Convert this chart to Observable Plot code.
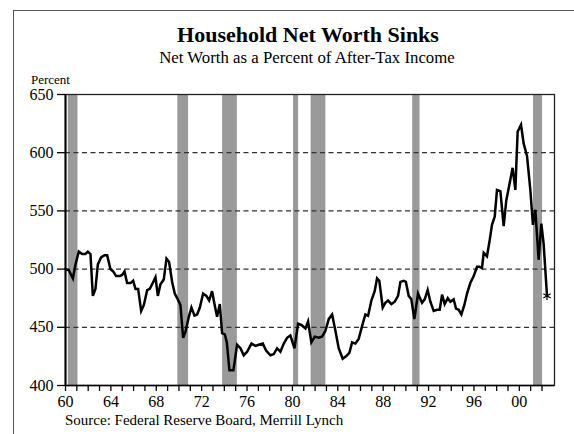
<!DOCTYPE html>
<html><head><meta charset="utf-8">
<script src="https://cdn.jsdelivr.net/npm/d3@7"></script>
<script src="https://cdn.jsdelivr.net/npm/@observablehq/plot@0.6"></script>
<style>
html,body{margin:0;padding:0;background:#fff;width:574px;height:434px;overflow:hidden;font-family:"Liberation Serif","Times New Roman",serif;}
#frame{position:absolute;left:13px;top:10px;width:640px;height:520px;border-left:1px solid #555;border-top:1px solid #555;}
.t{position:absolute;white-space:nowrap;color:#000;}
#title{left:0;width:616px;text-align:center;font-weight:bold;font-size:22px;line-height:22px;top:23.6px;}
#subtitle{left:0;width:614px;text-align:center;font-size:16.8px;line-height:16.8px;top:50px;}
#unit{left:31px;font-size:13px;line-height:13px;top:73.1px;}
#source{left:65px;font-size:15px;line-height:15px;top:413.4px;}
#chart{position:absolute;left:0;top:84px;}
#chart svg text{font-size:16px;}
</style>
</head><body>
<div id="frame"></div>
<div class="t" id="title">Household Net Worth Sinks</div>
<div class="t" id="subtitle">Net Worth as a Percent of After-Tax Income</div>
<div class="t" id="unit">Percent</div>
<div id="chart"></div>
<div class="t" id="source">Source: Federal Reserve Board, Merrill Lynch</div>
<script>
// Net worth as % of after-tax income
const dates = [
1960.00,1960.29,1960.65,1960.88,1961.17,1961.47,1961.76,1961.97,1962.20,1962.41,
1962.64,1962.85,1963.14,1963.44,1963.67,1963.96,1964.20,1964.46,1964.79,1964.99,
1965.20,1965.43,1965.73,1965.96,1966.17,1966.40,1966.67,1966.90,1967.20,1967.43,
1967.69,1967.93,1968.14,1968.37,1968.66,1968.90,1969.13,1969.40,1969.63,1969.90,
1970.13,1970.37,1970.57,1970.87,1971.10,1971.37,1971.60,1971.84,1972.13,1972.42,
1972.66,1972.92,1973.13,1973.36,1973.60,1973.80,1974.04,1974.22,1974.45,1974.80,
1975.12,1975.42,1975.71,1976.01,1976.39,1976.74,1977.03,1977.39,1977.68,1978.06,
1978.36,1978.65,1978.94,1979.24,1979.53,1979.82,1980.18,1980.50,1980.79,1981.15,
1981.38,1981.67,1981.97,1982.32,1982.61,1982.91,1983.20,1983.50,1983.79,1984.08,
1984.43,1984.73,1985.02,1985.26,1985.55,1985.84,1986.14,1986.43,1986.67,1986.96,
1987.25,1987.46,1987.66,1987.96,1988.19,1988.43,1988.72,1989.02,1989.31,1989.52,
1989.81,1990.00,1990.25,1990.48,1990.75,1991.07,1991.42,1991.66,1991.92,1992.16,
1992.45,1992.75,1992.98,1993.19,1993.42,1993.69,1993.92,1994.21,1994.42,1994.66,
1994.89,1995.15,1995.39,1995.68,1995.98,1996.27,1996.48,1996.71,1996.86,1997.15,
1997.39,1997.59,1997.83,1998.03,1998.33,1998.62,1998.85,1999.21,1999.41,1999.65,
1999.85,2000.15,2000.38,2000.68,2000.97,2001.20,2001.41,2001.70,2001.94,2002.14,
2002.44];
const netWorth = [
500,499,492,504,515,513,513,515,513,477,
483,504,510,512,512,500,498,494,494,495,
498,488,488,490,483,483,464,469,482,483,
488,493,477,487,491,509,506,489,479,474,
469,441,446,459,467,460,461,467,479,477,
473,481,470,459,470,445,444,437,413,413,
435,432,426,429,436,434,435,436,430,426,
427,432,429,436,441,443,432,453,452,449,
455,437,442,441,442,447,457,461,447,432,
423,425,428,437,436,440,451,461,460,473,
481,492,490,467,471,473,470,472,477,489,
490,489,477,474,457,479,471,474,482,472,
464,465,465,478,470,475,472,474,466,465,
461,469,479,488,494,502,502,501,514,511,
525,538,545,568,567,537,559,577,587,568,
618,624,608,597,568,538,551,508,539,522,
477];
// Recessions (shaded)
const recessionStart = [1960.25,1969.9,1973.85,1980.1,1981.65,1990.6,2001.25];
const recessionEnd   = [1961.1,1970.85,1975.15,1980.55,1982.95,1991.25,2002.05];
const gridValues = [450,500,550,600];
const yTicks = [400,450,500,550,600,650];
const xTicks = d3.range(1960, 2003);

const series = dates.map((d,i)=>({date:d, value:netWorth[i]}));
const bands = recessionStart.map((s,i)=>({x1:s, x2:recessionEnd[i]}));
const last = series[series.length-1];

const chart = Plot.plot({
  width: 574, height: 330,
  marginLeft: 65, marginRight: 20, marginTop: 10, marginBottom: 29,
  style: {fontFamily: '"Liberation Serif","Times New Roman",serif', fontSize: "16px", color: "#000", background: "transparent"},
  x: {domain: [1960, 2003.1]},
  y: {domain: [400, 650]},
  marks: [
    Plot.rectX(bands, {x1:"x1", x2:"x2", y1:400, y2:650, fill:"#9a9a9a"}),
    Plot.ruleY(gridValues, {stroke:"#333", strokeWidth:1.2, strokeDasharray:"5,3.5"}),
    Plot.axisX({ticks: xTicks, tickSize: 6, tickPadding: 4, tickFormat: d => d % 4 === 0 ? String(d).slice(2) : "", stroke:"#000", strokeWidth: 1.3, fontSize: 16}),
    Plot.axisY({ticks: yTicks, tickSize: 8, tickPadding: 4, tickFormat: d => String(d), stroke:"#000", strokeWidth: 1.3, fontSize: 16, label: null}),
    Plot.frame({stroke:"#222", strokeWidth:1.3}),
    Plot.ruleX([1960], {stroke:"#000", strokeWidth:2}),
    Plot.ruleY([400], {stroke:"#000", strokeWidth:1.6}),
    Plot.line(series, {x:"date", y:"value", stroke:"#000", strokeWidth:2.5, strokeLinejoin:"miter", strokeMiterlimit: 4}),
    Plot.dot([last], {x:"date", y:"value", symbol:"asterisk", r:4, stroke:"#000", strokeWidth:1.2})
  ]
});
document.getElementById("chart").appendChild(chart);
</script>
</body></html>
